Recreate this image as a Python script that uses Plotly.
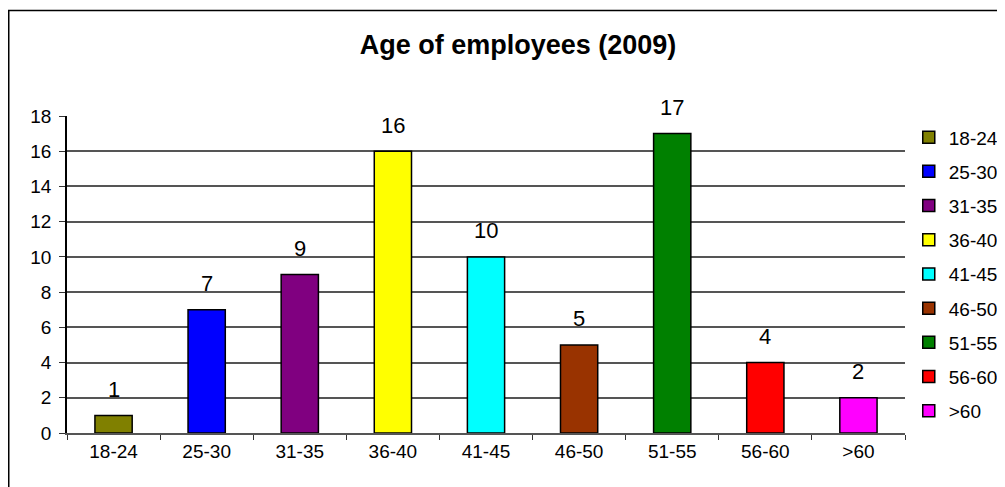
import plotly.graph_objects as go

categories = ["18-24", "25-30", "31-35", "36-40", "41-45", "46-50", "51-55", "56-60", ">60"]
counts = [1, 7, 9, 16, 10, 5, 17, 4, 2]
colors = ["#808000", "#0000FF", "#800080", "#FFFF00", "#00FFFF", "#993300", "#008000", "#FF0000", "#FF00FF"]
y_ticks = [0, 2, 4, 6, 8, 10, 12, 14, 16, 18]
title_text = "Age of employees (2009)"

FONT = "Liberation Sans, Arial, sans-serif"
W, H = 1030, 487
L, T, PW, PH = 59, 108, 838, 317

fig = go.Figure()
for cat, val, col in zip(categories, counts, colors):
    fig.add_trace(go.Bar(
        x=[cat], y=[val], name=cat, width=0.4,
        marker=dict(color=col, line=dict(color="black", width=1.5)),
        legendgroup=cat,
    ))

for cat, val in zip(categories, counts):
    fig.add_annotation(x=cat, y=val, text=str(val), showarrow=False,
                       yanchor="middle", yshift=26,
                       font=dict(family=FONT, size=22, color="black"))

fig.update_layout(
    width=W, height=H,
    margin=dict(l=L, r=W - L - PW, t=T, b=H - T - PH),
    paper_bgcolor="white", plot_bgcolor="white",
    barmode="overlay",
    font=dict(family=FONT, size=19, color="black"),
    title=dict(text="<b>" + title_text + "</b>", x=510 / W, xanchor="center",
               xref="container",
               y=1 - 37 / H, yanchor="middle", yref="container",
               font=dict(family=FONT, size=27, color="black")),
    showlegend=True,
    legend=dict(x=1.0045, y=0.9927, xanchor="left", yanchor="top",
                traceorder="grouped", tracegroupgap=6.5,
                font=dict(family=FONT, size=19, color="black"),
                bgcolor="rgba(0,0,0,0)"),
    xaxis=dict(type="category", categoryorder="array", categoryarray=categories,
               showline=True, linecolor="#555", linewidth=1.5,
               ticks="outside", tickson="boundaries", ticklen=5, tickcolor="#333",
               showgrid=False, tickfont=dict(family=FONT, size=19)),
    yaxis=dict(range=[0, 18], tickvals=y_ticks, showline=True, linecolor="black", linewidth=1.5,
               ticks="outside", ticklen=6, tickcolor="#333", ticklabelstandoff=4,
               showgrid=True, gridcolor="#555", gridwidth=1.5, zeroline=False,
               tickfont=dict(family=FONT, size=19)),
    shapes=[dict(type="rect", xref="paper", yref="paper",
                 x0=(0.75 - L) / PW, x1=(W + 20 - L) / PW,
                 y0=(T + PH - 510) / PH, y1=(T + PH - 2.5) / PH,
                 line=dict(color="black", width=1.5), fillcolor="rgba(0,0,0,0)", layer="below")],
)

fig.write_html("out.html")
